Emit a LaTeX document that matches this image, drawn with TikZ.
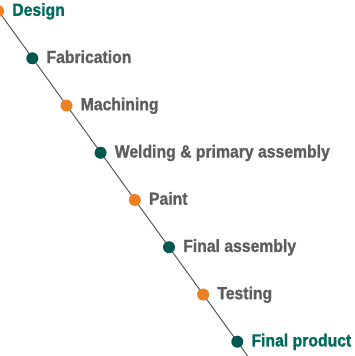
\documentclass[tikz,border=0pt]{standalone}
\usepackage{fontspec}
\setmainfont{Liberation Sans}[FakeStretch=0.9,BoldFeatures={FakeBold=1.2}]
\definecolor{dotorange}{HTML}{EE7F22}
\definecolor{dotgreen}{HTML}{00574F}
\definecolor{txtgreen}{HTML}{006A5F}
\definecolor{txtgray}{HTML}{5C5D60}
\definecolor{linegray}{HTML}{4A4A4A}
\begin{document}
\begin{tikzpicture}[x=1pt,y=-1pt,
  odot/.style={circle,fill=dotorange,inner sep=0pt,minimum size=12pt},
  gdot/.style={circle,fill=dotgreen,inner sep=0pt,minimum size=12pt},
  lbl/.style={anchor=base west,inner sep=0pt,font=\bfseries\fontsize{17.5}{20}\selectfont,text=txtgray},
  hlbl/.style={lbl,text=txtgreen},
  tl/.style={draw=linegray,line width=0.9pt}]
\useasboundingbox (0,0) rectangle (354,356);
\coordinate (top) at (-9.5,0);
\coordinate (bot) at (247.6,356);
\draw[tl] (top) -- (bot);
\node[odot] (d1) at (-1.9,11.1) {};
\node[gdot] (d2) at (32.3,58.3) {};
\node[odot] (d3) at (66.5,105.5) {};
\node[gdot] (d4) at (100.6,152.8) {};
\node[odot] (d5) at (134.8,200.0) {};
\node[gdot] (d6) at (169.0,247.2) {};
\node[odot] (d7) at (203.1,294.5) {};
\node[gdot] (d8) at (237.3,341.7) {};
\node[hlbl] (t1) at ([xshift=14pt,yshift=-4.7pt]d1.center) {Design};
\node[lbl] (t2) at ([xshift=14pt,yshift=-4.7pt]d2.center) {Fabrication};
\node[lbl] (t3) at ([xshift=14pt,yshift=-4.7pt]d3.center) {Machining};
\node[lbl] (t4) at ([xshift=14pt,yshift=-4.7pt]d4.center) {Welding \& primary assembly};
\node[lbl] (t5) at ([xshift=14pt,yshift=-4.7pt]d5.center) {Paint};
\node[lbl] (t6) at ([xshift=14pt,yshift=-4.7pt]d6.center) {Final assembly};
\node[lbl] (t7) at ([xshift=14pt,yshift=-4.7pt]d7.center) {Testing};
\node[hlbl] (t8) at ([xshift=14pt,yshift=-4.7pt]d8.center) {Final product};
\end{tikzpicture}
\end{document}
